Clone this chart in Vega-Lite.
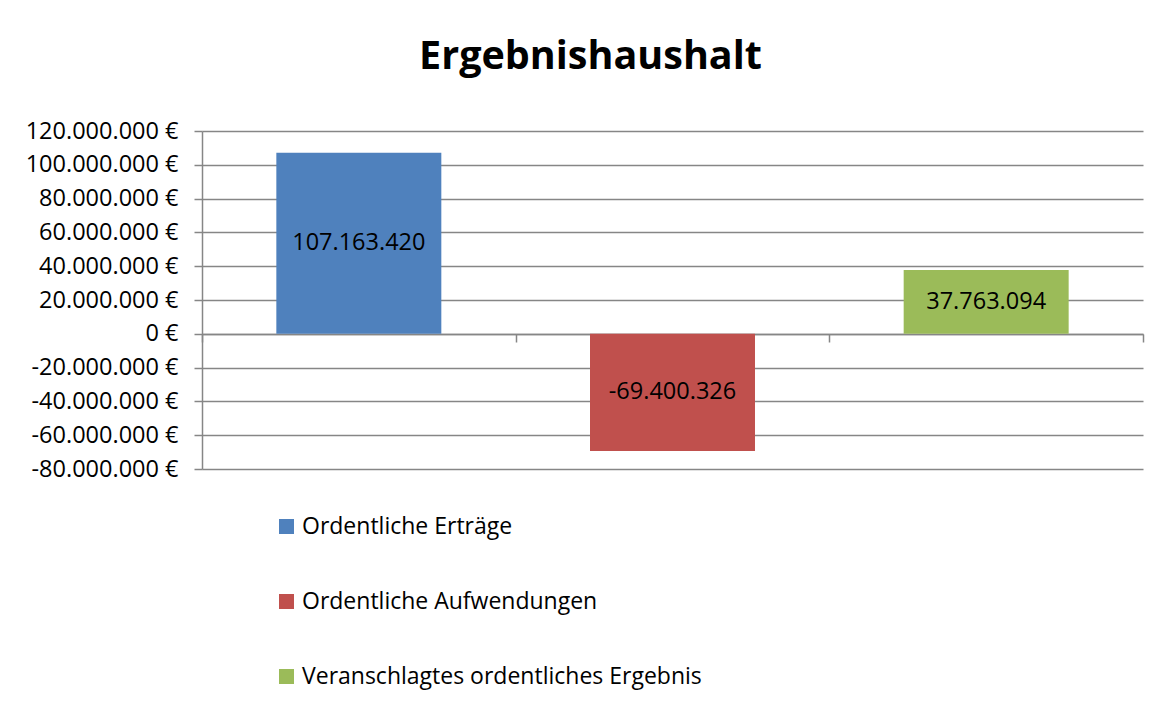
{
  "$schema": "https://vega.github.io/schema/vega-lite/v6.json",
  "autosize": {"type": "none"},
  "width": 941,
  "height": 338,
  "padding": {"left": 202, "top": 131, "right": 27, "bottom": 240},
  "background": "white",
  "title": {
    "text": "Ergebnishaushalt",
    "font": "Open Sans",
    "fontSize": 39.5,
    "fontWeight": "bold",
    "color": "black",
    "anchor": "middle",
    "dx": -82,
    "offset": 42
  },
  "data": {
    "values": [
      {"kategorie": "Ordentliche Erträge", "wert": 107163420},
      {"kategorie": "Ordentliche Aufwendungen", "wert": -69400326},
      {"kategorie": "Veranschlagtes ordentliches Ergebnis", "wert": 37763094}
    ]
  },
  "transform": [
    {"calculate": "datum.wert / 2", "as": "mitte"},
    {"calculate": "replace(join(split(format(datum.wert, ',d'), ','), '.'), '\u2212', '-')", "as": "label"}
  ],
  "encoding": {
    "x": {
      "field": "kategorie",
      "type": "nominal",
      "sort": null,
      "scale": {"paddingInner": 0, "paddingOuter": 0},
      "axis": {
        "title": null,
        "labels": false,
        "orient": "bottom",
        "offset": -135,
        "tickBand": "extent",
        "ticks": true,
        "tickSize": 8,
        "tickColor": "#868686",
        "tickWidth": 1.5,
        "domainColor": "#868686",
        "domainWidth": 1.5,
        "grid": false
      }
    }
  },
  "layer": [
    {
      "mark": {"type": "bar", "width": {"band": 0.526}},
      "encoding": {
        "y": {
          "field": "wert",
          "type": "quantitative",
          "scale": {"domain": [-80000000, 120000000], "nice": false, "zero": false},
          "axis": {
            "title": null,
            "values": [-80000000, -60000000, -40000000, -20000000, 0, 20000000, 40000000, 60000000, 80000000, 100000000, 120000000],
            "labelOverlap": false,
            "labelExpr": "replace(join(split(format(datum.value, ',d'), ','), '.'), '\u2212', '-') + ' €'",
            "labelFont": "Open Sans",
            "labelFontSize": 23.5,
            "labelColor": "black",
            "labelPadding": 16,
            "tickSize": 8,
            "tickColor": "#868686",
            "tickWidth": 1.5,
            "domainColor": "#868686",
            "domainWidth": 1.5,
            "grid": true,
            "gridColor": "#868686",
            "gridWidth": 1.5
          }
        },
        "color": {
          "field": "kategorie",
          "type": "nominal",
          "sort": null,
          "scale": {"range": ["#4F81BD", "#C0504D", "#9BBB59"]},
          "legend": {
            "title": null,
            "orient": "none",
            "legendX": 73,
            "legendY": 384,
            "direction": "vertical",
            "symbolType": "square",
            "symbolSize": 225,
            "symbolStrokeWidth": 0,
            "labelFont": "Open Sans",
            "labelFontSize": 23,
            "labelColor": "black",
            "labelOffset": 4,
            "rowPadding": 51,
            "labelLimit": 700
          }
        }
      }
    },
    {
      "mark": {"type": "text", "font": "Open Sans", "fontSize": 23.5, "color": "black", "baseline": "middle", "align": "center"},
      "encoding": {
        "y": {
          "field": "mitte",
          "type": "quantitative",
          "scale": {"domain": [-80000000, 120000000], "nice": false, "zero": false},
          "axis": {
            "title": null,
            "values": [-80000000, -60000000, -40000000, -20000000, 0, 20000000, 40000000, 60000000, 80000000, 100000000, 120000000],
            "labelOverlap": false,
            "labelExpr": "replace(join(split(format(datum.value, ',d'), ','), '.'), '\u2212', '-') + ' €'",
            "labelFont": "Open Sans",
            "labelFontSize": 23.5,
            "labelColor": "black",
            "labelPadding": 16,
            "tickSize": 8,
            "tickColor": "#868686",
            "tickWidth": 1.5,
            "domainColor": "#868686",
            "domainWidth": 1.5,
            "grid": true,
            "gridColor": "#868686",
            "gridWidth": 1.5
          }
        },
        "text": {"field": "label", "type": "nominal"}
      }
    }
  ],
  "config": {
    "view": {"stroke": null}
  }
}
